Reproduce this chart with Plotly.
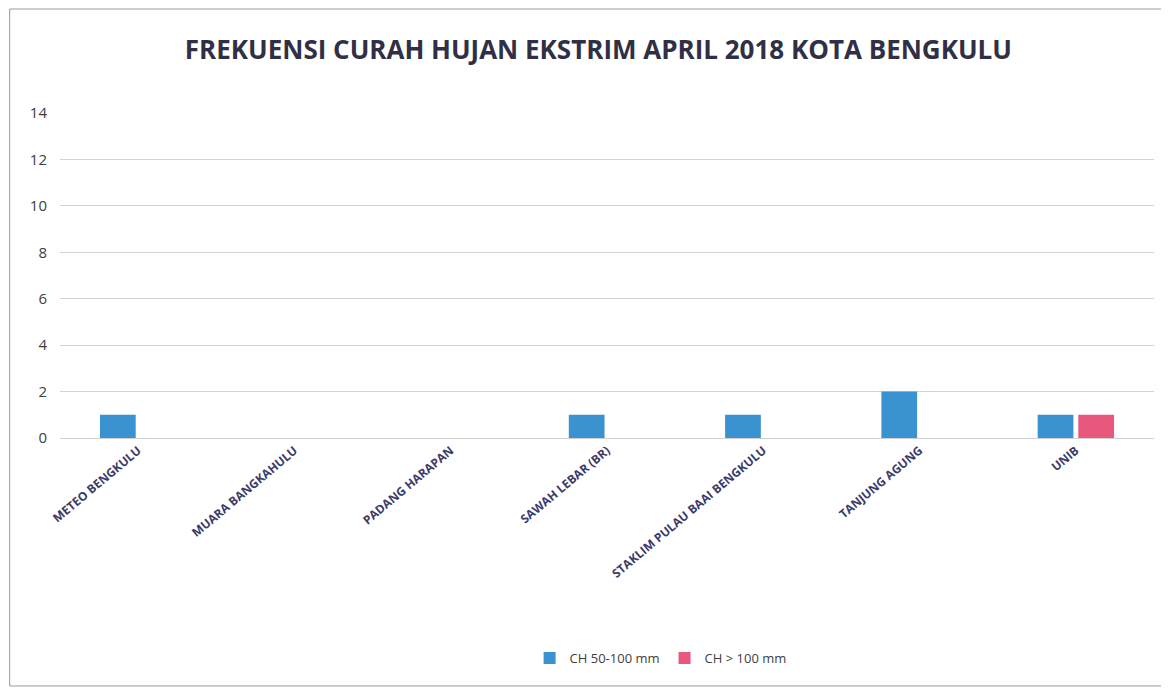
import plotly.graph_objects as go

STASIUN = [
    "METEO BENGKULU",
    "MUARA BANGKAHULU",
    "PADANG HARAPAN",
    "SAWAH LEBAR (BR)",
    "STAKLIM PULAU BAAI BENGKULU",
    "TANJUNG AGUNG",
    "UNIB",
]
CH_50_100 = [1, 0, 0, 1, 1, 2, 1]
CH_100 = [0, 0, 0, 0, 0, 0, 1]
Y_TICKS = [0, 2, 4, 6, 8, 10, 12, 14]

BIRU = "#3a93d0"
PINK = "#e8577c"
FONTE = "Open Sans, Calibri, sans-serif"

fig = go.Figure()
fig.add_trace(go.Bar(x=STASIUN, y=CH_50_100, name="CH 50-100 mm",
                     marker=dict(color=BIRU, line_width=0)))
fig.add_trace(go.Bar(x=STASIUN, y=CH_100, name="CH > 100 mm",
                     marker=dict(color=PINK, line_width=0)))

# a pagina tem 8px de margem no body, por isso tudo vai deslocado
fig.update_layout(
    width=1169,
    height=690,
    barmode="group",
    bargap=0.48,
    bargroupgap=0.12,
    paper_bgcolor="white",
    plot_bgcolor="white",
    font=dict(family=FONTE, color="#404040"),
    title=dict(
        text="<b>FREKUENSI CURAH HUJAN EKSTRIM APRIL 2018 KOTA BENGKULU</b>",
        x=0.505, xanchor="center", y=0.94, yanchor="middle",
        font=dict(size=26, color="#2f3045", family=FONTE),
    ),
    margin=dict(l=52, r=23, t=105, b=260, autoexpand=False),
    showlegend=True,
    legend=dict(
        orientation="h", x=0.549, xanchor="center", y=-0.677, yanchor="middle",
        font=dict(size=13, color="#404040"),
        itemwidth=30, traceorder="normal",
    ),
    shapes=[dict(type="rect", xref="paper", yref="paper",
                 x0=-0.046, x1=1.010, y0=-0.763, y1=1.32,
                 line=dict(color="#9a9a9a", width=1))],
)

fig.update_xaxes(
    showgrid=False,
    showline=True,
    linecolor="#d0d0d0",
    tickangle=-40,
    tickvals=STASIUN,
    ticktext=["<b>" + s + "</b>" for s in STASIUN],
    tickfont=dict(size=12, color="#3b3b6b", family=FONTE),
    ticks="",
)
fig.update_yaxes(
    range=[0, 14],
    tickvals=Y_TICKS,
    gridcolor="#d6d0da",
    zeroline=False,
    showline=False,
    tickfont=dict(size=15, color="#404040", family=FONTE),
    ticks="",
    ticklabelstandoff=12,
)

fig.write_html("out.html")
